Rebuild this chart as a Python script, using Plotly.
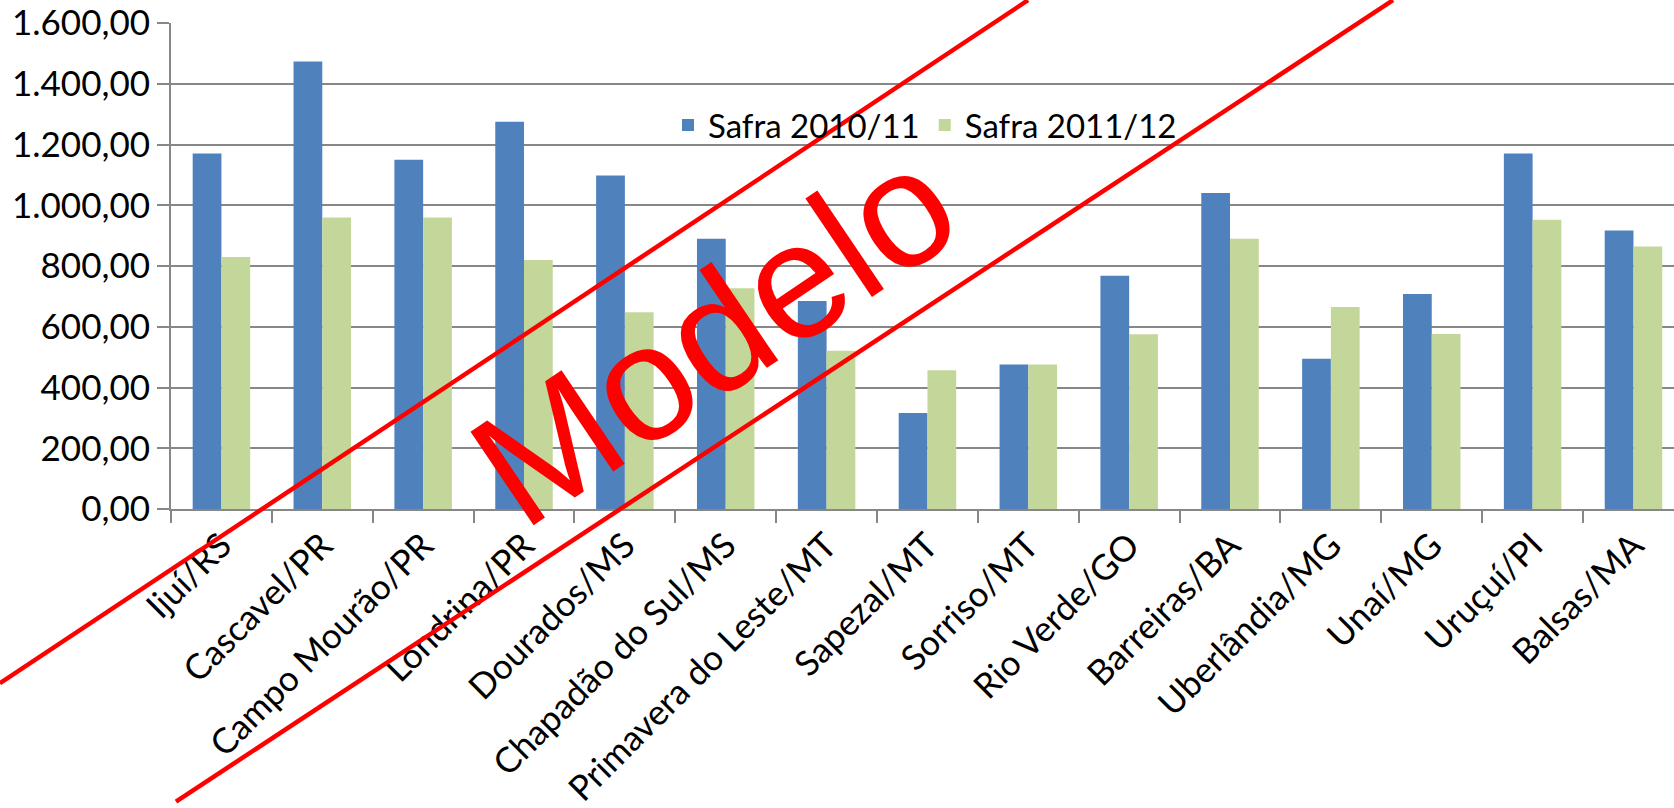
import plotly.graph_objects as go

# ---------------- data ----------------
categories = ["Ijuí/RS", "Cascavel/PR", "Campo Mourão/PR", "Londrina/PR", "Dourados/MS",
              "Chapadão do Sul/MS", "Primavera do Leste/MT", "Sapezal/MT", "Sorriso/MT",
              "Rio Verde/GO", "Barreiras/BA", "Uberlândia/MG", "Unaí/MG", "Uruçuí/PI", "Balsas/MA"]
safra_2010_11 = [1170, 1473, 1150, 1275, 1098, 890, 685, 316, 476, 768, 1040, 495, 708, 1170, 917]
safra_2011_12 = [830, 960, 960, 820, 648, 727, 521, 457, 476, 575, 890, 665, 576, 952, 864]
series_names = ["Safra 2010/11", "Safra 2011/12"]
y_ticks = [0, 200, 400, 600, 800, 1000, 1200, 1400, 1600]
watermark_text = "Modelo"

# ---------------- layout constants ----------------
W, H = 1674, 808
L, R, T, B = 171, 0, 23, 295
FONT = "Lato"
BLUE = "#4F81BD"
GREEN = "#C4D79B"
GRID = "#878787"


def paper(x, y):
    return (x - L) / (W - L - R), (H - B - y) / (H - T - B)


fig = go.Figure()
fig.add_trace(go.Bar(x=categories, y=safra_2010_11, name=series_names[0],
                     marker=dict(color=BLUE, line=dict(width=0))))
fig.add_trace(go.Bar(x=categories, y=safra_2011_12, name=series_names[1],
                     marker=dict(color=GREEN, line=dict(width=0))))

cat_w = 100.86
x_end = -0.5 + (W - L - R) / cat_w

fig.update_layout(
    width=W, height=H,
    margin=dict(l=L, r=R, t=T, b=B, pad=0),
    paper_bgcolor="white", plot_bgcolor="white",
    barmode="group", bargap=0.43, bargroupgap=0,
    separators=",.",
    font=dict(family=FONT, size=34, color="black"),
    showlegend=True,
    legend=dict(orientation="h", x=paper(668, 0)[0], xanchor="left",
                y=paper(0, 126)[1], yanchor="middle",
                bgcolor="rgba(0,0,0,0)", font=dict(family=FONT, size=33, color="black"),
                itemsizing="constant", tracegroupgap=0),
)

fig.update_xaxes(
    type="category", range=[-0.5, x_end],
    tickson="boundaries", ticks="outside", ticklen=12, tickwidth=2, tickcolor=GRID,
    tickangle=-45, showline=True, linecolor=GRID, linewidth=2,
    showgrid=False, tickfont=dict(family=FONT, size=35, color="black"),
)
fig.update_yaxes(
    range=[0, 1600], tickvals=y_ticks, tickformat=",.2f",
    ticks="outside", ticklen=12, tickwidth=2, tickcolor=GRID,
    showline=True, linecolor=GRID, linewidth=2,
    showgrid=True, gridcolor=GRID, gridwidth=2, zeroline=False,
    tickfont=dict(family=FONT, size=35, color="black"),
)

# watermark: two red diagonal lines and rotated text
for (x0, y0, x1, y1) in [(0, 688.6, 1028, 0), (176, 808, 1393, 0)]:
    px0, py0 = paper(x0, y0)
    px1, py1 = paper(x1, y1)
    fig.add_shape(type="line", xref="paper", yref="paper", x0=px0, y0=py0, x1=px1, y1=py1,
                  line=dict(color="#FF0000", width=4.5), layer="above")

ax, ay = paper(714, 338)
fig.add_annotation(text=watermark_text, xref="paper", yref="paper", x=ax, y=ay,
                   xanchor="center", yanchor="middle", showarrow=False, textangle=-34,
                   font=dict(family="Liberation Sans", size=164, color="#FF0000"))

fig.write_html("out.html", config={"displayModeBar": False},
               post_script="document.body.style.margin='0';")
